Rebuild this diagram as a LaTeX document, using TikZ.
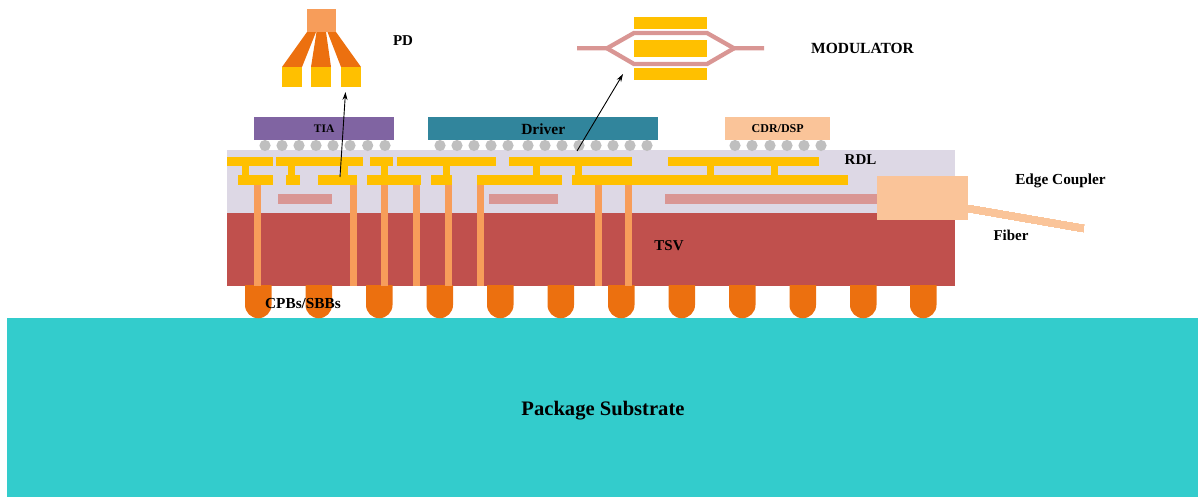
\documentclass[tikz,border=0pt]{standalone}
\usepackage{fontspec}
\setmainfont{Liberation Serif}
\definecolor{cPurple}{HTML}{8064A2}
\definecolor{cTeal}{HTML}{31859C}
\definecolor{cPeach}{HTML}{FAC499}
\definecolor{cLav}{HTML}{DDD8E5}
\definecolor{cRed}{HTML}{C0504D}
\definecolor{cVia}{HTML}{F79D5A}
\definecolor{cOrange}{HTML}{EC700F}
\definecolor{cGold}{HTML}{FFC000}
\definecolor{cSub}{HTML}{33CCCC}
\definecolor{cGrey}{HTML}{BFBFBF}
\definecolor{cRose}{HTML}{D99694}
\newcommand{\bx}[5]{\fill[#1] (#2,#3) rectangle (#4,#5);}
\tikzset{
  x=1pt,y=-1pt,
  lbl/.style={font=\bfseries\fontsize{#1}{#1}\selectfont,inner sep=0pt,text=black},
  chip/.style={anchor=north west,minimum height=23pt,inner sep=0pt,font=\bfseries},
  guide/.style={draw=cRose,line width=4.3pt,line join=miter},
  pointer/.style={-{Stealth[length=8pt,width=5pt]},black,line width=0.9pt}
}
\usetikzlibrary{arrows.meta}
\begin{document}
\begin{tikzpicture}
\useasboundingbox (0,0) rectangle (1198,497);
% substrate and die
\fill[cSub] (7,318) rectangle (1198,497);
\fill[cLav] (227,150) rectangle (955,213);
\fill[cRed] (227,213) rectangle (955,286);
% bumps
\foreach \p in {245,305.5,366,426.5,487,547.5,608,668.5,729,789.5,850,910}
  \fill[cOrange] (\p,285) -- (\p+26.5,285) -- (\p+26.5,305) arc[start angle=0,end angle=180,radius=13.25] -- cycle;
% micro bumps
\foreach \p in {265,282,299,316,333,350,367.7,385,440,457,474,491,508,528,545,562,579,596,613,630,647,735,752,770,787,804,821}
  \fill[cGrey] (\p,145.5) circle[radius=5.6];
% TSVs
\foreach \p in {254,350,381,413,445,477,595,625}
  \bx{cVia}{\p}{185}{\p+7}{286}
% pink waveguides
\bx{cRose}{278}{194}{332}{204}
\bx{cRose}{489}{194}{558}{204}
\bx{cRose}{665}{194}{878}{204}
% upper traces
\bx{cGold}{227}{157}{273}{166}
\bx{cGold}{276}{157}{363}{166}
\bx{cGold}{370}{157}{393}{166}
\bx{cGold}{397}{157}{496}{166}
\bx{cGold}{509}{157}{632}{166}
\bx{cGold}{668}{157}{819}{166}
% lower traces
\bx{cGold}{238}{175}{273}{185}
\bx{cGold}{286}{175}{300}{185}
\bx{cGold}{318}{175}{357}{185}
\bx{cGold}{367}{175}{421}{185}
\bx{cGold}{431}{175}{452}{185}
\bx{cGold}{477}{175}{562}{185}
\bx{cGold}{572}{175}{848}{185}
% vias between traces
\foreach \p in {242,288,341,381,443,533,575,707,771}
  \bx{cGold}{\p}{166}{\p+7}{175}
% edge coupler and fibre
\fill[cPeach] (968,205) -- (1084,225) -- (1083,232) -- (968,212) -- cycle;
\bx{cPeach}{877}{176}{968}{220}
% chips
\node[chip,fill=cPurple,minimum width=140pt,font=\bfseries\fontsize{11.5}{11.5}\selectfont] (tia) at (254,117) {TIA};
\node[chip,fill=cTeal,minimum width=230pt,font=\bfseries\fontsize{15.5}{15.5}\selectfont] (driver) at (428,117) {Driver};
\node[chip,fill=cPeach,minimum width=105pt,font=\bfseries\fontsize{12}{12}\selectfont] (cdr) at (725,117) {CDR/DSP};
% PD
\fill[cOrange] (307,32) -- (316,32) -- (302,67) -- (282,67) -- cycle;
\fill[cOrange] (316.5,32) -- (326,32) -- (331,67) -- (311,67) -- cycle;
\fill[cOrange] (327.5,32) -- (336,32) -- (361,67) -- (341,67) -- cycle;
\bx{cVia}{307}{9}{336}{32}
\bx{cGold}{282}{67}{302}{87}
\bx{cGold}{311}{67}{331}{87}
\bx{cGold}{341}{67}{361}{87}
% modulator
\bx{cGold}{634}{17}{707}{29}
\bx{cGold}{634}{40}{707}{57}
\bx{cGold}{634}{68}{707}{80}
\draw[guide] (577,48.3) -- (607,48.3) -- (634,33) -- (707,33) -- (734,48.3) -- (764,48.3);
\draw[guide] (607,48.3) -- (634,64) -- (707,64) -- (734,48.3);
% connectors
\coordinate (pdfrom) at (340,177);
\coordinate (pdto) at (345.5,92);
\coordinate (modfrom) at (577,151);
\coordinate (modto) at (623,74);
\draw[pointer] (pdfrom) -- (pdto);
\draw[pointer] (modfrom) -- (modto);
% labels
\node[lbl=15] (pd) at (403,40.5) {PD};
\node[lbl=15.5] (modulator) at (862.5,48.5) {MODULATOR};
\node[lbl=15] (rdl) at (860.5,159.5) {RDL};
\node[lbl=15.3] (edge) at (1060.5,180.5) {Edge Coupler};
\node[lbl=15] (fiber) at (1011,235.5) {Fiber};
\node[lbl=15] (tsv) at (669,246) {TSV};
\node[lbl=15.3] (cpb) at (303,303.5) {CPBs/SBBs};
\node[lbl=20.6] (sub) at (603,411) {Package Substrate};
\end{tikzpicture}
\end{document}
